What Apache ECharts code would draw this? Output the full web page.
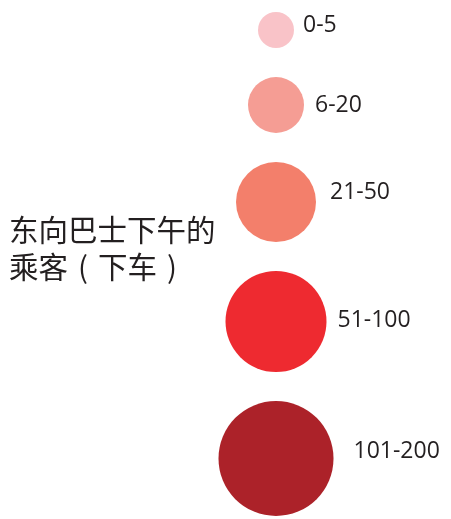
<!DOCTYPE html>
<html>
<head>
<meta charset="utf-8">
<script src="https://cdn.jsdelivr.net/npm/echarts@6/dist/echarts.min.js"></script>
<style>
html,body{margin:0;padding:0;background:#fff;}
#chart{width:451px;height:519px;}
</style>
</head>
<body>
<div id="chart"></div>
<script>
// Data
var categories = ['0-5', '6-20', '21-50', '51-100', '101-200'];
var sizes = [36, 56, 80, 101, 115];           // legend bubble diameters (size encoding)
var colors = ['#F9C3C8', '#F59D94', '#F37F6B', '#EE2A30', '#AC2229'];
var titleLine1 = '东向巴士下午的';
var titleLine2 = ['乘客', '（', '下车', '）'];

// Layout (style, not data)
var W = 451, H = 519;
var centerX = 276, firstTop = 12, gap = 29;
var labelDist = [9, 11, 14, 11, 20];
var labelDy = [-5, 0, -10, -1, -7];
var titleFontSize = 29.5;

var points = [];
var cursorY = firstTop;
for (var i = 0; i < categories.length; i++) {
  var cy = cursorY + sizes[i] / 2;
  points.push({
    name: categories[i],
    value: [centerX, cy],
    symbolSize: sizes[i],
    itemStyle: { color: colors[i], opacity: 1 },
    label: { distance: labelDist[i], offset: [0, labelDy[i]] }
  });
  cursorY += sizes[i] + gap;
}

// full-width brackets drawn centred in their em box
var halfParen = { '（': '(', '）': ')' };
var titleRich = titleLine1 + '\n' + titleLine2.map(function (s) {
  return halfParen[s] ? '{p|' + halfParen[s] + '}' : s;
}).join('');

var titleFont = {
  fontFamily: 'Noto Sans CJK SC',
  fontSize: titleFontSize,
  fontWeight: 'normal',
  color: '#231F20',
  lineHeight: 37
};

var chart = echarts.init(document.getElementById('chart'));
chart.setOption({
  backgroundColor: '#ffffff',
  animation: false,
  title: {
    text: titleRich,
    left: 9,
    top: 211,
    padding: 0,
    textStyle: Object.assign({}, titleFont, {
      rich: {
        p: Object.assign({}, titleFont, { padding: [0, 10, 0, 10] })
      }
    })
  },
  grid: { left: 0, top: 0, width: W, height: H },
  xAxis: { type: 'value', min: 0, max: W, show: false },
  yAxis: { type: 'value', min: 0, max: H, inverse: true, show: false },
  series: [{
    type: 'scatter',
    data: points,
    itemStyle: { opacity: 1 },
    label: {
      show: true,
      position: 'right',
      formatter: '{b}',
      fontFamily: 'Open Sans',
      fontSize: 23,
      color: '#231F20',
      opacity: 1
    },
    emphasis: { disabled: true }
  }]
});
</script>
</body>
</html>
